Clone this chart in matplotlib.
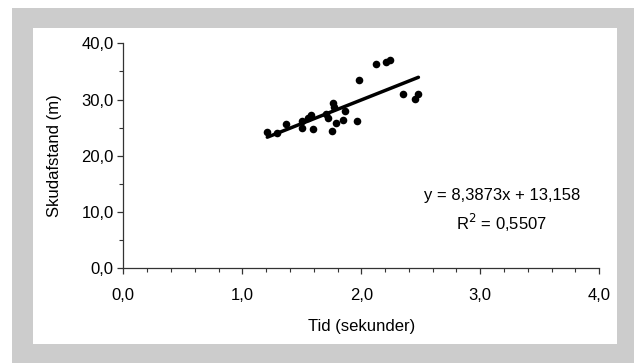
import matplotlib
matplotlib.use('Agg')
from matplotlib import pyplot as plt
from matplotlib.patches import Rectangle
from matplotlib.ticker import MultipleLocator, FuncFormatter

plt.rcParams['font.family'] = ['Liberation Sans', 'DejaVu Sans']

# Data
tid = [1.21, 1.29, 1.37, 1.50, 1.50, 1.55, 1.58, 1.59, 1.70, 1.72, 1.75, 1.76,
       1.77, 1.79, 1.85, 1.86, 1.96, 1.98, 2.12, 2.21, 2.24, 2.35, 2.45, 2.48]
afstand = [24.2, 24.1, 25.6, 26.2, 24.9, 26.8, 27.3, 24.7, 27.5, 26.8, 24.4, 29.3,
           28.7, 25.9, 26.3, 27.9, 26.2, 33.4, 36.3, 36.6, 37.1, 31.0, 30.1, 31.0]

# Tendenslinje (fra figurens ligning)
haeldning = 8.3873
skaering = 13.158
r2 = 0.5507

W, H = 634, 363
fig = plt.figure(figsize=(W / 100, H / 100), dpi=100)
fig.patch.set_facecolor('white')

# grå ramme og hvidt panel
fig.patches.append(Rectangle((12 / W, 0), 1 - 12 / W, 1 - 8 / H, transform=fig.transFigure,
                             facecolor='#cccccc', edgecolor='none', zorder=-10))
fig.patches.append(Rectangle((33 / W, 19 / H), (617 - 33) / W, (344 - 28) / H,
                             transform=fig.transFigure, facecolor='white',
                             edgecolor='none', zorder=-9))

ax = fig.add_axes([123.3 / W, (H - 268.3) / H, (599.3 - 123.3) / W, (268.3 - 43.3) / H])
ax.set_facecolor('none')
ax.set_zorder(5)

ax.scatter(tid, afstand, s=30, color='black', zorder=3, linewidths=0)
xs = [min(tid), max(tid)]
ax.plot(xs, [haeldning * x + skaering for x in xs], color='black', lw=2.5,
        solid_capstyle='round', zorder=2)

ax.set_xlim(0, 4)
ax.set_ylim(0, 40)
ax.xaxis.set_major_locator(MultipleLocator(1))
ax.xaxis.set_minor_locator(MultipleLocator(0.2))
ax.yaxis.set_major_locator(MultipleLocator(10))
ax.yaxis.set_minor_locator(MultipleLocator(5))
fmt = FuncFormatter(lambda v, p: f"{v:.1f}".replace('.', ','))
ax.xaxis.set_major_formatter(fmt)
ax.yaxis.set_major_formatter(fmt)

for s in ['top', 'right']:
    ax.spines[s].set_visible(False)
for s in ['left', 'bottom']:
    ax.spines[s].set_color('#333333')
    ax.spines[s].set_linewidth(0.9)

fs = 12
ax.tick_params(axis='both', which='major', length=4, width=0.9, color='#333333',
               labelsize=fs, direction='out')
ax.tick_params(axis='both', which='minor', length=3, width=0.8, color='#333333',
               direction='out')
ax.tick_params(axis='x', which='major', pad=10)
ax.tick_params(axis='y', which='major', pad=3)

ax.set_xlabel('Tid (sekunder)', fontsize=fs, labelpad=12)
ax.set_ylabel('Skudafstand (m)', fontsize=fs, labelpad=14)

ax.text(3.18, 13.0, f"y = {haeldning:.4f}x + {skaering:.3f}".replace('.', ','),
        ha='center', va='center', fontsize=fs)
ax.text(3.18, 8.0, f"R$^2$ = {r2:.4f}".replace('.', ','),
        ha='center', va='center', fontsize=fs)

fig.savefig('out.png', dpi=100)
